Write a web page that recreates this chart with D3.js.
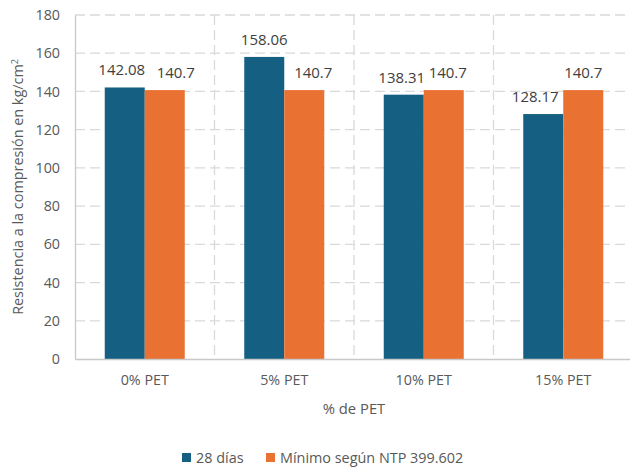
<!DOCTYPE html>
<html>
<head>
<meta charset="utf-8">
<script src="https://cdn.jsdelivr.net/npm/d3@7"></script>
<style>
body{margin:0;background:#fff;}
text{font-family:"Open Sans","Noto Sans",sans-serif;}
</style>
</head>
<body>
<svg id="c" width="630" height="468"></svg>
<script>
const categories = ["0% PET","5% PET","10% PET","15% PET"];
const seriesNames = ["28 días","Mínimo según NTP 399.602"];
const dias28 = [142.08,158.06,138.31,128.17];
const minimo = [140.7,140.7,140.7,140.7];
const yTicks = [0,20,40,60,80,100,120,140,160,180];
// label horizontal nudges (layout only)
const labelNudge = [[-3,11],[0,9],[-2,4],[-8,0]];

const colors = ["#156082","#E97132"];
const svg = d3.select("#c");
const m = {l:75,r:633,t:15,b:359};
const x = d3.scaleBand().domain(categories).range([m.l,m.r]);
const xs = d3.scaleBand().domain([0,1]).range([0,80]);
const y = d3.scaleLinear().domain([0,180]).range([m.b,m.t]);

// horizontal grid
svg.append("g").selectAll("line").data(yTicks.filter(d=>d>0)).join("line")
  .attr("x1",m.l).attr("x2",m.r).attr("y1",d=>y(d)).attr("y2",d=>y(d))
  .attr("stroke","#d9d9d9").attr("stroke-width",1.3).attr("stroke-dasharray","10,5");
// vertical grid between categories
svg.append("g").selectAll("line").data(categories.slice(1)).join("line")
  .attr("x1",d=>x(d)).attr("x2",d=>x(d)).attr("y1",m.t).attr("y2",m.b)
  .attr("stroke","#d9d9d9").attr("stroke-width",1.3).attr("stroke-dasharray","10,5");

// y axis
const ya = svg.append("g").attr("transform",`translate(${m.l},0)`)
  .call(d3.axisLeft(y).tickValues(yTicks).tickSize(0).tickPadding(15));
ya.select(".domain").attr("stroke","#c8c8c8").attr("stroke-width",1.3);
ya.selectAll("text").attr("font-size",14.3).attr("fill","#595959");

// bars
const series = [dias28,minimo];
series.forEach((vals,si)=>{
  svg.append("g").selectAll("rect").data(vals).join("rect")
    .attr("x",(d,i)=>x(categories[i])+x.bandwidth()/2-40+xs(si))
    .attr("width",xs.bandwidth())
    .attr("y",d=>y(d)).attr("height",d=>y(0)-y(d))
    .attr("fill",colors[si]);
  svg.append("g").selectAll("text").data(vals).join("text")
    .attr("x",(d,i)=>x(categories[i])+x.bandwidth()/2-40+xs(si)+xs.bandwidth()/2+labelNudge[i][si])
    .attr("y",d=>y(d)-12)
    .attr("text-anchor","middle").attr("font-size",15).attr("fill","#404040")
    .text(d=>d);
});

// x axis
const xa = svg.append("g").attr("transform",`translate(0,${m.b})`)
  .call(d3.axisBottom(x).tickSize(0).tickPadding(16));
xa.select(".domain").attr("stroke","#c8c8c8").attr("stroke-width",1.3);
xa.selectAll("text").attr("font-size",14.3).attr("fill","#595959");

// axis titles
svg.append("text").attr("x",(m.l+m.r)/2).attr("y",414).attr("text-anchor","middle")
  .attr("font-size",14.8).attr("fill","#595959").text("% de PET");
const yt = svg.append("text").attr("transform",`translate(23,${(m.t+m.b)/2}) rotate(-90)`)
  .attr("text-anchor","middle").attr("font-size",14.4).attr("fill","#595959");
yt.append("tspan").text("Resistencia a la compresión en kg/cm");
yt.append("tspan").attr("dy",-5).attr("font-size",9).text("2");

// legend
const lg = svg.append("g");
const lx = [182,266];
seriesNames.forEach((n,i)=>{
  lg.append("rect").attr("x",lx[i]).attr("y",453).attr("width",9).attr("height",9).attr("fill",colors[i]);
  lg.append("text").attr("x",lx[i]+14).attr("y",462.5).attr("font-size",14.4).attr("fill","#595959").text(n);
});
</script>
</body>
</html>
